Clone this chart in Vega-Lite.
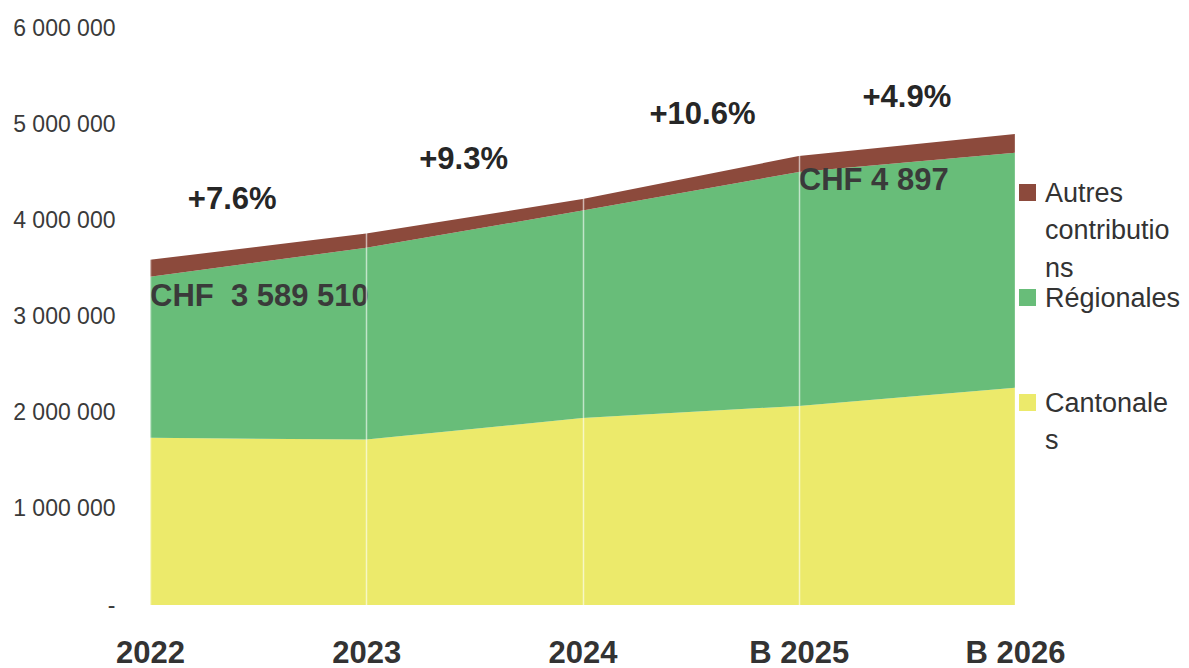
{
  "$schema": "https://vega.github.io/schema/vega-lite/v6.json",
  "width": 865,
  "height": 577,
  "autosize": {"type": "none"},
  "padding": {"left": 150, "top": 28, "right": 174, "bottom": 63},
  "background": "#ffffff",
  "config": {
    "view": {"stroke": null},
    "locale": {"number": {"decimal": ",", "thousands": " ", "grouping": [3], "currency": ["", ""]}}
  },
  "datasets": {
    "contrib": [
      {"period": 0, "year": "2022", "source": "Cantonales", "stack_order": 1, "amount": 1738000},
      {"period": 0, "year": "2022", "source": "Régionales", "stack_order": 2, "amount": 1675000},
      {"period": 0, "year": "2022", "source": "Autres contributions", "stack_order": 3, "amount": 176510},
      {"period": 1, "year": "2023", "source": "Cantonales", "stack_order": 1, "amount": 1720000},
      {"period": 1, "year": "2023", "source": "Régionales", "stack_order": 2, "amount": 1995000},
      {"period": 1, "year": "2023", "source": "Autres contributions", "stack_order": 3, "amount": 147000},
      {"period": 2, "year": "2024", "source": "Cantonales", "stack_order": 1, "amount": 1945000},
      {"period": 2, "year": "2024", "source": "Régionales", "stack_order": 2, "amount": 2156000},
      {"period": 2, "year": "2024", "source": "Autres contributions", "stack_order": 3, "amount": 120000},
      {"period": 3, "year": "B 2025", "source": "Cantonales", "stack_order": 1, "amount": 2070000},
      {"period": 3, "year": "B 2025", "source": "Régionales", "stack_order": 2, "amount": 2432000},
      {"period": 3, "year": "B 2025", "source": "Autres contributions", "stack_order": 3, "amount": 167000},
      {"period": 4, "year": "B 2026", "source": "Cantonales", "stack_order": 1, "amount": 2258000},
      {"period": 4, "year": "B 2026", "source": "Régionales", "stack_order": 2, "amount": 2445000},
      {"period": 4, "year": "B 2026", "source": "Autres contributions", "stack_order": 3, "amount": 194000}
    ],
    "notes": [
      {"kind": "growth", "period": 0.38, "amount": 4214000, "label": "+7.6%"},
      {"kind": "growth", "period": 1.45, "amount": 4631000, "label": "+9.3%"},
      {"kind": "growth", "period": 2.555, "amount": 5099000, "label": "+10.6%"},
      {"kind": "growth", "period": 3.5, "amount": 5276000, "label": "+4.9%"},
      {"kind": "total", "period": 0, "amount": 3205000, "label": "CHF\u00a0 3 589 510"},
      {"kind": "total", "period": 3, "amount": 4412000, "label": "CHF 4 897"}
    ]
  },
  "layer": [
    {
      "data": {"name": "contrib"},
      "mark": {"type": "area", "interpolate": "linear"},
      "encoding": {
        "x": {
          "field": "period",
          "type": "quantitative",
          "scale": {"domain": [0, 4], "nice": false, "zero": false},
          "axis": {
            "title": null,
            "values": [0, 1, 2, 3, 4],
            "labelExpr": "['2022','2023','2024','B 2025','B 2026'][datum.value]",
            "labelFont": "Liberation Sans",
            "labelFontWeight": "bold",
            "labelFontSize": 31,
            "labelColor": "#333333",
            "labelPadding": 33,
            "labelFlush": false,
            "labelOverlap": false,
            "domain": false,
            "ticks": false,
            "grid": true,
            "gridColor": "#ffffff",
            "gridOpacity": 0.6,
            "gridWidth": 1.5,
            "zindex": 1
          }
        },
        "y": {
          "field": "amount",
          "type": "quantitative",
          "stack": "zero",
          "scale": {"domain": [0, 6000000], "nice": false},
          "axis": {
            "title": null,
            "values": [0, 1000000, 2000000, 3000000, 4000000, 5000000, 6000000],
            "format": ",d",
            "labelExpr": "datum.value === 0 ? '-\u00a0' : datum.label",
            "labelFont": "Liberation Sans",
            "labelFontSize": 23,
            "labelColor": "#3a3a3a",
            "labelPadding": 35,
            "labelOverlap": false,
            "domain": false,
            "ticks": false,
            "grid": false
          }
        },
        "color": {
          "field": "source",
          "type": "nominal",
          "scale": {
            "domain": ["Autres contributions", "Régionales", "Cantonales"],
            "range": ["#8c4a3c", "#68bd79", "#ecea6b"]
          },
          "legend": {
            "title": null,
            "orient": "none",
            "legendX": 864,
            "legendY": 151,
            "direction": "vertical",
            "symbolType": "square",
            "symbolSize": 289,
            "symbolStrokeWidth": 0,
            "symbolOpacity": 1,
            "labelFont": "Liberation Sans",
            "labelFontSize": 27,
            "labelColor": "#333333",
            "labelBaseline": "top",
            "labelOffset": 4,
            "labelLimit": 300,
            "rowPadding": 2,
            "labelExpr": "datum.label === 'Autres contributions' ? ['Autres', 'contributio', 'ns'] : datum.label === 'Régionales' ? ['Régionales', '', ''] : ['Cantonale', 's', '']",
            "encode": {"labels": {"update": {"lineHeight": {"value": 37.5}, "dy": {"value": -12}}}}
          }
        },
        "order": {"field": "stack_order", "type": "quantitative"}
      }
    },
    {
      "data": {"name": "notes"},
      "transform": [{"filter": "datum.kind === 'growth'"}],
      "mark": {"type": "text", "font": "Liberation Sans", "fontWeight": "bold", "fontSize": 31, "color": "#262626", "align": "center", "baseline": "middle"},
      "encoding": {
        "x": {"field": "period", "type": "quantitative"},
        "y": {"field": "amount", "type": "quantitative"},
        "text": {"field": "label", "type": "nominal"}
      }
    },
    {
      "data": {"name": "notes"},
      "transform": [{"filter": "datum.kind === 'total'"}],
      "mark": {"type": "text", "font": "Liberation Sans", "fontWeight": "bold", "fontSize": 31, "color": "#3a3a3a", "align": "left", "baseline": "middle"},
      "encoding": {
        "x": {"field": "period", "type": "quantitative"},
        "y": {"field": "amount", "type": "quantitative"},
        "text": {"field": "label", "type": "nominal"}
      }
    }
  ]
}
